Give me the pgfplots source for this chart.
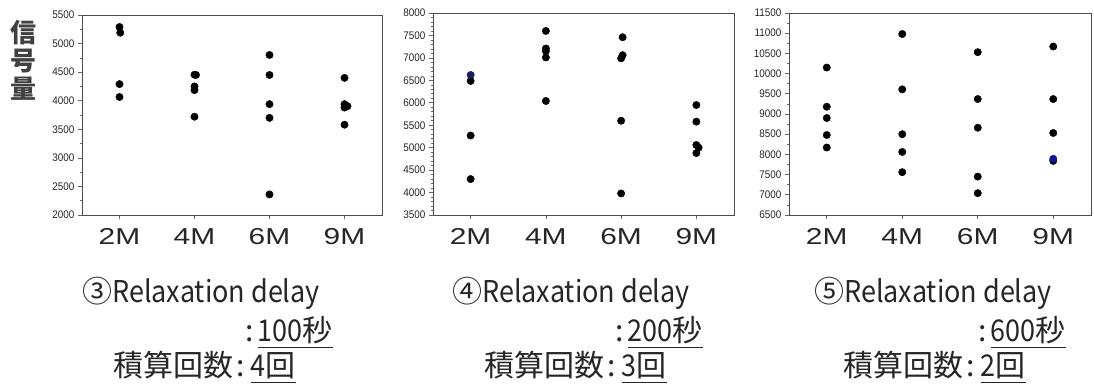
\documentclass[border=0pt]{standalone}
\usepackage{fontspec}
\usepackage{graphicx}
\usepackage{pgfplots}
\pgfplotsset{compat=1.18}
\setmainfont{Liberation Sans}
\newfontfamily\jp{Noto Sans CJK JP}

% underline drawn as a rule under the boxed text
\newcommand\ul[1]{\setbox0\hbox{#1}\rlap{\rule[-6pt]{\wd0}{1.4pt}}\box0}
% condensed Latin run inside the captions
\newcommand\cond[1]{\scalebox{0.9}[1]{#1}}

\definecolor{dotnavy}{RGB}{28,28,95}
\definecolor{dotblue}{RGB}{20,20,150}

\pgfplotsset{
  panel/.style={
    scale only axis, anchor=south west,
    xmin=-0.5, xmax=3.5, xtick={0,1,2,3},
    xticklabels={\scalebox{1.3}[1]{2M},\scalebox{1.3}[1]{4M},\scalebox{1.3}[1]{6M},\scalebox{1.3}[1]{9M}},
    tick align=outside, tick pos=left,
    axis line style={draw=black!70, line width=0.8pt},
    every tick/.style={black!60, line width=0.6pt},
    major tick length=4pt, minor tick length=2.5pt,
    scaled y ticks=false,
    /pgf/number format/assume math mode=true,
    /pgf/number format/1000 sep={},
    yticklabel={\scalebox{0.9}[1]{\pgfmathprintnumber{\tick}}},
    yticklabel style={font=\fontsize{11}{11}\selectfont, text=black!85},
    xticklabel style={font=\fontsize{23}{23}\selectfont, anchor=base, yshift=-26pt, text=black!85},
  },
  dots/.style={only marks, mark=*, mark size=3.7pt, draw=black, fill=black},
}

\begin{document}
\begin{tikzpicture}
\path[use as bounding box] (0pt,0pt) rectangle (1094pt,387pt);

% vertical axis title
\node[font=\jp\bfseries\fontsize{26}{28}\selectfont, align=center, inner sep=0pt, text=black!75] at (23pt,327pt) {信\\号\\量};

% (3) relaxation delay 100 s, 4 scans
\begin{axis}[panel, at={(82pt,172pt)}, width=300pt, height=200pt,
  ymin=2000, ymax=5500, ytick distance=500, minor y tick num=1]
\addplot[dots] coordinates {(0,5290)(0.01,5190)(0,4290)(0,4065)
  (1,4455)(1.02,4450)(1,4250)(1,4185)(1,3720)
  (2,4800)(2,4450)(2,3940)(2,3700)(2,2360)
  (3,4400)(3,3940)(3.04,3905)(3,3880)(3,3580)};
\end{axis}

% (4) relaxation delay 200 s, 3 scans
\begin{axis}[panel, at={(433pt,172pt)}, width=301pt, height=202pt,
  ymin=3500, ymax=8000, ytick distance=500, minor y tick num=4]
\addplot[dots] coordinates {(0,6485)(0,5270)(0,4300)
  (1,7600)(1,7210)(1,7150)(1,7010)(1,6040)
  (2.02,7460)(2.02,7060)(2,6990)(2,5600)(2,3980)
  (3,5950)(3,5580)(3,5060)(3.03,5000)(3,4880)};
\addplot[dots, draw=dotnavy, fill=dotnavy] coordinates {(0,6620)};
\end{axis}

% (5) relaxation delay 600 s, 2 scans
\begin{axis}[panel, at={(789pt,172pt)}, width=302pt, height=202pt,
  ymin=6500, ymax=11500, ytick distance=500, minor y tick num=1]
\addplot[dots] coordinates {(0,10150)(0,9180)(0,8900)(0,8480)(0,8170)
  (1,10980)(1,9610)(1,8500)(1,8060)(1,7560)
  (2,10530)(2,9370)(2,8660)(2,7450)(2,7040)
  (3,10670)(3,9370)(3,8530)(3,7840)};
\addplot[dots, draw=dotblue, fill=dotblue] coordinates {(3,7890)};
\end{axis}

% condition captions
\begin{scope}[every node/.style={font=\jp\fontsize{30}{30}\selectfont, inner sep=0pt, text=black!85}]
\node[anchor=base west] at (82pt,84pt) {③\cond{Relaxation delay}};
\node[anchor=base east] at (333pt,45pt) {:\kern4pt\ul{\cond{100}秒}};
\node[anchor=base west] at (113pt,10pt) {積算回数\kern3pt:\kern6pt\ul{\cond{4}回}};

\node[anchor=base west] at (452pt,84pt) {④\cond{Relaxation delay}};
\node[anchor=base east] at (703pt,45pt) {:\kern4pt\ul{\cond{200}秒}};
\node[anchor=base west] at (484pt,10pt) {積算回数\kern3pt:\kern6pt\ul{\cond{3}回}};

\node[anchor=base west] at (814pt,84pt) {⑤\cond{Relaxation delay}};
\node[anchor=base east] at (1066pt,45pt) {:\kern4pt\ul{\cond{600}秒}};
\node[anchor=base west] at (843pt,10pt) {積算回数\kern3pt:\kern6pt\ul{\cond{2}回}};
\end{scope}
\end{tikzpicture}
\end{document}
